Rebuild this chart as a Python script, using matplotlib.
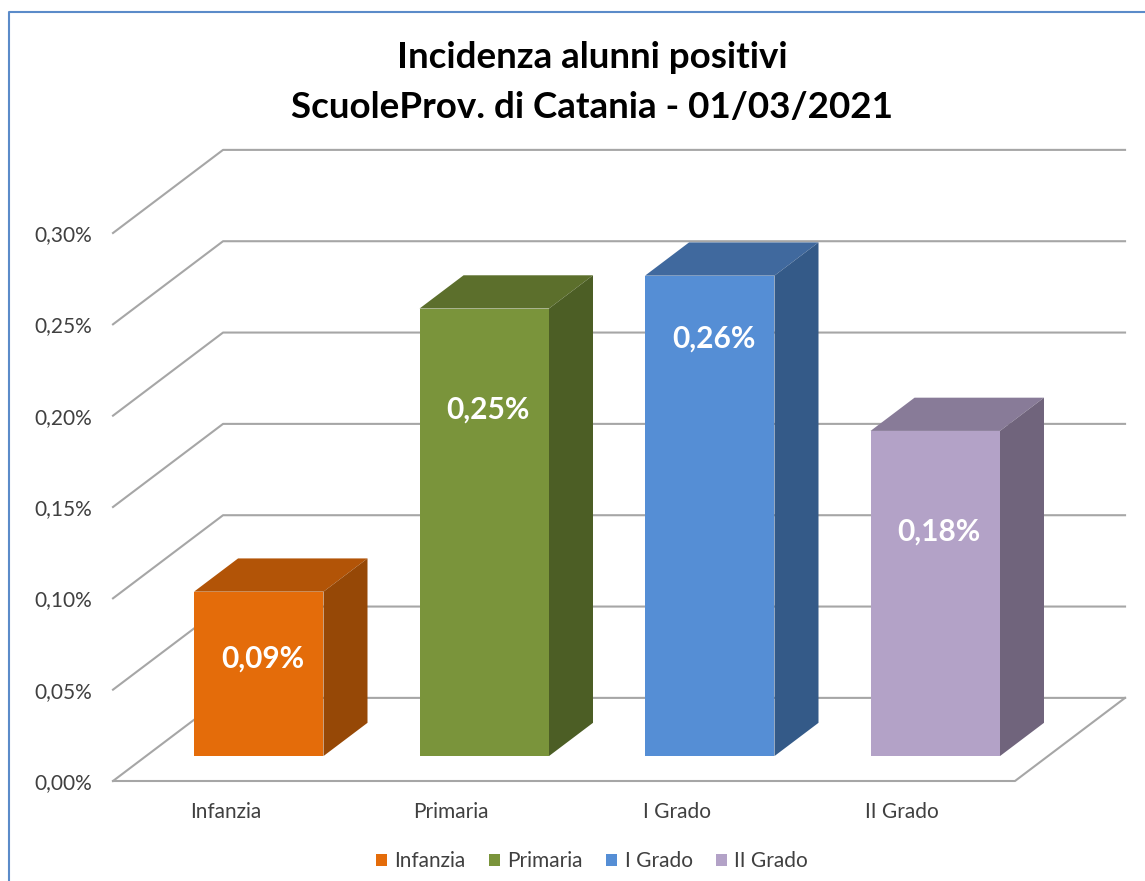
import matplotlib
matplotlib.use("Agg")
import matplotlib.pyplot as plt
from matplotlib.patches import Polygon, Patch
from matplotlib.lines import Line2D

categories = ["Infanzia", "Primaria", "I Grado", "II Grado"]
values = [0.090, 0.245, 0.263, 0.178]
value_labels = ["0,09%", "0,25%", "0,26%", "0,18%"]
y_ticks = [0.00, 0.05, 0.10, 0.15, 0.20, 0.25, 0.30]
y_tick_labels = ["0,00%", "0,05%", "0,10%", "0,15%", "0,20%", "0,25%", "0,30%"]

front_colors = ["#E46C0A", "#7A943B", "#558ED5", "#B3A2C7"]
top_colors = ["#B25407", "#5C6F2C", "#40699E", "#887B98"]
side_colors = ["#964806", "#4C5E25", "#345A88", "#70647C"]

# oblique projection: how far the back wall is shifted from the front plane
DEPTH_X = 0.488
DEPTH_Y = 0.0455
BAR_WIDTH = 0.574
BAR_D0, BAR_D1 = 0.30, 0.70
GRID_COLOR = "#A6A6A6"
TEXT_COLOR = "#404040"
LABEL_FRACTION = [0.59, 0.775, 0.87, 0.69]

plt.rcParams["font.family"] = ["Lato", "DejaVu Sans"]


def project(x, y, d):
    return x + d * DEPTH_X, y + d * DEPTH_Y


def draw_face(ax, corners, color, z):
    pts = [project(*c) for c in corners]
    ax.add_patch(Polygon(pts, closed=True, facecolor=color, edgecolor="none",
                         clip_on=False, zorder=z))


def draw_grid(ax, x0, x1):
    for tick in y_ticks:
        xs, ys = zip(project(x0, tick, 0), project(x0, tick, 1), project(x1, tick, 1))
        ax.plot(xs, ys, color=GRID_COLOR, lw=1.5, clip_on=False, zorder=1)
    # the floor is closed on the front and right
    floor = [(x1, 0, 1), (x1, 0, 0), (x0, 0, 0)]
    xs, ys = zip(*[project(*p) for p in floor])
    ax.plot(xs, ys, color=GRID_COLOR, lw=1.5, clip_on=False, zorder=1)


def draw_bar(ax, i):
    left, right = i - BAR_WIDTH / 2, i + BAR_WIDTH / 2
    v = values[i]
    draw_face(ax, [(left, v, BAR_D0), (right, v, BAR_D0), (right, v, BAR_D1), (left, v, BAR_D1)],
              top_colors[i], 3)
    draw_face(ax, [(right, 0, BAR_D0), (right, 0, BAR_D1), (right, v, BAR_D1), (right, v, BAR_D0)],
              side_colors[i], 3)
    draw_face(ax, [(left, 0, BAR_D0), (right, 0, BAR_D0), (right, v, BAR_D0), (left, v, BAR_D0)],
              front_colors[i], 4)
    lx, ly = project(i + 0.018, v * LABEL_FRACTION[i], BAR_D0)
    ax.text(lx, ly, value_labels[i], color="white", fontsize=21.5, fontweight="bold",
            ha="center", va="center", zorder=5)


fig = plt.figure(figsize=(11.45, 8.81), dpi=100)
ax = fig.add_axes([113 / 1145, 100 / 881, 902 / 1145, 548 / 881])
ax.set_xlim(-0.5, 3.5)
ax.set_ylim(0, 0.30)

draw_grid(ax, -0.5, 3.5)
for i in range(len(categories)):
    draw_bar(ax, i)

for spine in ax.spines.values():
    spine.set_visible(False)
ax.set_xticks(range(len(categories)), categories)
ax.set_yticks(y_ticks, y_tick_labels)
ax.tick_params(axis="both", length=0, labelsize=15, labelcolor=TEXT_COLOR)
ax.tick_params(axis="x", pad=15)
ax.tick_params(axis="y", pad=15)

fig.text(0.517, 0.935, "Incidenza alunni positivi", fontsize=26.5, fontweight="bold",
         color="black", ha="center", va="center")
fig.text(0.517, 0.878, "ScuoleProv. di Catania - 01/03/2021", fontsize=26.5, fontweight="bold",
         color="black", ha="center", va="center")

handles = [Patch(facecolor=c, edgecolor="none") for c in front_colors]
fig.legend(handles, categories, loc="center", bbox_to_anchor=(0.517, 0.0225), ncol=4,
           frameon=False, fontsize=15, labelcolor=TEXT_COLOR, handlelength=0.55, handleheight=0.55,
           handletextpad=0.35, columnspacing=1.1)

# chart frame, only its top and left edges are inside the crop
fig.add_artist(Line2D([8.5 / 1145, 8.5 / 1145, 1], [0, 869.5 / 881, 869.5 / 881],
                      color="#5B8BC9", lw=1.5))

fig.savefig("out.png", dpi=100)
